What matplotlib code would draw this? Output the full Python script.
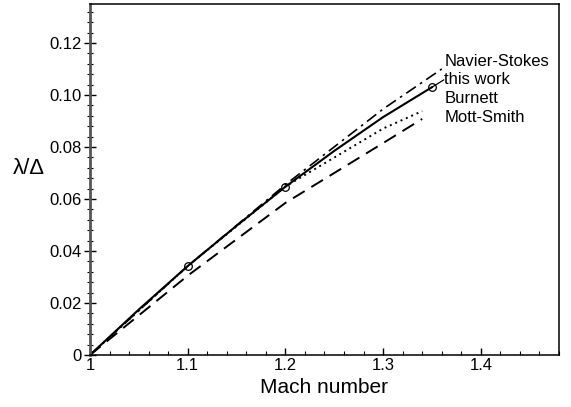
import numpy as np
import matplotlib
matplotlib.use('Agg')
import matplotlib.pyplot as plt
from matplotlib.ticker import MultipleLocator

plt.rcParams['font.family'] = ['Liberation Sans', 'DejaVu Sans']

# curves
mach_work = [1.0, 1.05, 1.1, 1.15, 1.2, 1.25, 1.3, 1.35]
lam_work = [0.0, 0.0175, 0.0342, 0.0497, 0.0647, 0.0785, 0.0915, 0.103]

mach_ns = [1.0, 1.1, 1.2, 1.3, 1.36]
lam_ns = [0.0, 0.0342, 0.0655, 0.0946, 0.1100]

mach_burnett = [1.0, 1.1, 1.2, 1.3, 1.34]
lam_burnett = [0.0, 0.0342, 0.0648, 0.0871, 0.0938]

mach_ms = [1.0, 1.1, 1.2, 1.3, 1.34]
lam_ms = [0.0, 0.0305, 0.0585, 0.0815, 0.0908]

# circles on "this work"
mach_pts = [1.1, 1.2, 1.35]
lam_pts = [0.0342, 0.0647, 0.103]

labels = ['Navier-Stokes', 'this work', 'Burnett', 'Mott-Smith']
label_y = [0.1127, 0.1058, 0.0985, 0.0912]

fig = plt.figure(figsize=(5.71, 4.07), dpi=100)
ax = fig.add_axes([0.1576, 0.1278, 0.8214, 0.8624])

ax.plot(mach_ns, lam_ns, color='black', lw=1.2, linestyle=(0, (7, 3, 1.5, 3)))
ax.plot(mach_work, lam_work, color='black', lw=1.5)
ax.plot(mach_burnett, lam_burnett, color='black', lw=1.4, linestyle=(0, (1, 2)))
ax.plot(mach_ms, lam_ms, color='black', lw=1.4, linestyle=(0, (7, 4)))
ax.plot(mach_pts, lam_pts, 'o', mfc='none', mec='black', ms=5.5, mew=0.9)

# leader from last circle to its label
ax.plot([mach_pts[-1], 1.362], [lam_pts[-1], 0.1058], color='black', lw=0.9)

for lab, yy in zip(labels, label_y):
    ax.text(1.3625, yy, lab, fontsize=12, va='center', ha='left')

ax.set_xlim(1.0, 1.48)
ax.set_ylim(0, 0.135)
ax.set_xticks([1.0, 1.1, 1.2, 1.3, 1.4])
ax.set_xticklabels(['1', '1.1', '1.2', '1.3', '1.4'])
ax.set_yticks([0, 0.02, 0.04, 0.06, 0.08, 0.10, 0.12])
ax.set_yticklabels(['0', '0.02', '0.04', '0.06', '0.08', '0.10', '0.12'])
ax.xaxis.set_minor_locator(MultipleLocator(0.02))
ax.yaxis.set_minor_locator(MultipleLocator(0.004))

ax.tick_params(axis='x', which='major', direction='in', length=5, width=1, labelsize=12, pad=2)
ax.tick_params(axis='x', which='minor', direction='in', length=3, width=0.8)
ax.tick_params(axis='y', which='major', direction='inout', length=8, width=1, labelsize=12, pad=2)
ax.tick_params(axis='y', which='minor', direction='inout', length=5, width=0.8)

ax.spines['left'].set_linewidth(2)
ax.spines['left'].set_color('#555555')
for s in ['top', 'right', 'bottom']:
    ax.spines[s].set_linewidth(1.1)

ax.set_xlabel('Mach number', fontsize=15, labelpad=4)
ax.set_ylabel('λ/Δ', fontsize=16, rotation=0)
ax.yaxis.set_label_coords(-0.13, 0.5)

fig.savefig('out.png', dpi=100)
